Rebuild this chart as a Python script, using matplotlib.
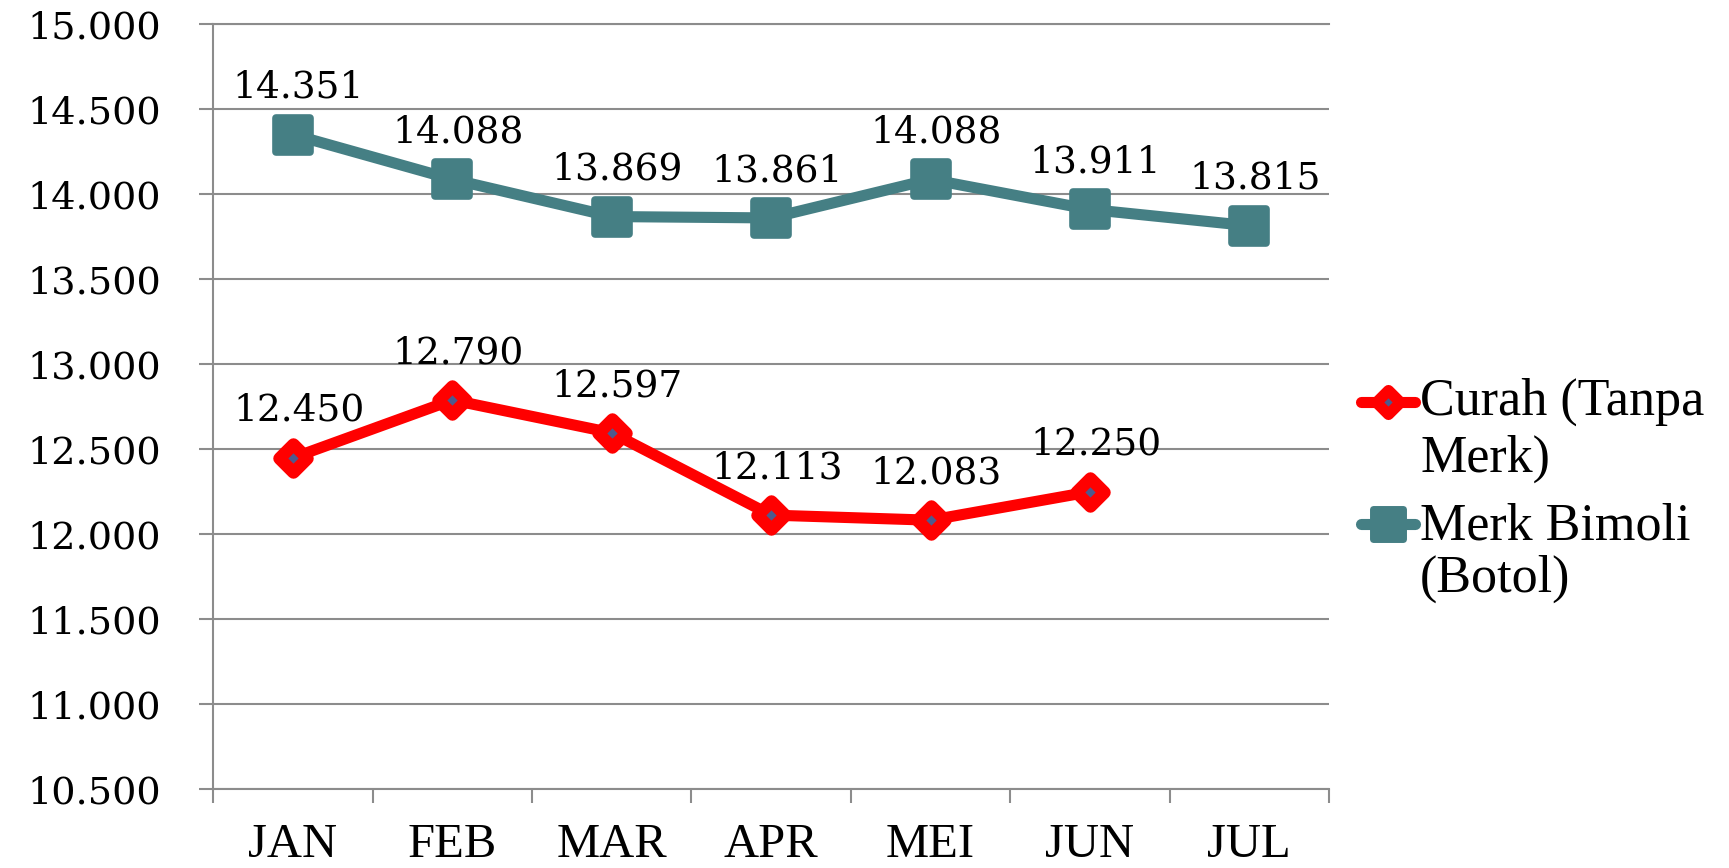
import matplotlib
matplotlib.use("Agg")
import matplotlib.pyplot as plt
from matplotlib.lines import Line2D
from matplotlib.markers import MarkerStyle
import numpy as np

months = ["JAN", "FEB", "MAR", "APR", "MEI", "JUN", "JUL"]
curah = [12450, 12790, 12597, 12113, 12083, 12250]
bimoli = [14351, 14088, 13869, 13861, 14088, 13911, 13815]
curah_labels = ["12.450", "12.790", "12.597", "12.113", "12.083", "12.250"]
bimoli_labels = ["14.351", "14.088", "13.869", "13.861", "14.088", "13.911", "13.815"]
yticks = list(range(10500, 15001, 500))
ytick_labels = ["10.500", "11.000", "11.500", "12.000", "12.500", "13.000",
                "13.500", "14.000", "14.500", "15.000"]
legend_lines = [["Curah (Tanpa", "Merk)"], ["Merk Bimoli", "(Botol)"]]

RED = "#FF0000"
DIAMOND_FACE = "#4E5A8E"
TEAL = "#457F84"
GRID = "#8C8C8C"
NUMFONT = "DejaVu Serif"
TXTFONT = "Liberation Serif"

W, H = 1729, 868
fig = plt.figure(figsize=(W / 100, H / 100), dpi=100)
ax = fig.add_axes([213.3 / W, 1 - 789.3 / H, (1329 - 213.3) / W, (789.3 - 24.3) / H])

x = np.arange(len(months))
xc = np.arange(len(curah))

diamond = MarkerStyle("D", joinstyle="round")
square = MarkerStyle("s", joinstyle="round")

ax.plot(x, bimoli, color=TEAL, lw=8, marker=square, ms=24, mfc=TEAL, mec=TEAL,
        mew=5.5, solid_joinstyle="round", solid_capstyle="round", zorder=3)
ax.plot(xc, curah, color=RED, lw=8, marker=diamond, ms=14, mfc=DIAMOND_FACE, mec=RED,
        mew=9, solid_joinstyle="round", solid_capstyle="round", zorder=3)

for xi, v, s in zip(x, bimoli, bimoli_labels):
    ax.annotate(s, (xi, v), xytext=(4, 26.5), textcoords="offset points",
                ha="center", va="baseline", fontsize=27, family=NUMFONT, zorder=4)
for xi, v, s in zip(xc, curah, curah_labels):
    ax.annotate(s, (xi, v), xytext=(4, 26.5), textcoords="offset points",
                ha="center", va="baseline", fontsize=27, family=NUMFONT, zorder=4)

ax.set_xlim(-0.5, len(months) - 0.5)
ax.set_ylim(yticks[0], yticks[-1])
ax.set_yticks(yticks)
ax.set_yticklabels(ytick_labels, family=NUMFONT, fontsize=27.5)
ax.set_xticks(x)
ax.set_xticklabels(months, family=TXTFONT, fontsize=35)
ax.set_xticks(np.arange(-0.5, len(months)), minor=True)
ax.tick_params(axis="x", which="major", length=0, pad=24)
ax.tick_params(axis="x", which="minor", length=10, width=1.5, color=GRID)
ax.tick_params(axis="y", length=10, width=1.5, color=GRID, pad=27.5)

ax.grid(axis="y", color=GRID, lw=1.5)
ax.set_axisbelow(True)
for side in ["left", "bottom", "top"]:
    ax.spines[side].set_color(GRID)
    ax.spines[side].set_linewidth(1.5)
ax.spines["right"].set_visible(False)

# legend (manual, handle aligned with first text line)
def fx(px):
    return px / W

def fy(py):
    return 1 - py / H

handles = [
    dict(color=RED, marker=diamond, ms=12, mfc=DIAMOND_FACE, mec=RED, mew=8),
    dict(color=TEAL, marker=square, ms=21, mfc=TEAL, mec=TEAL, mew=5),
]
handle_y = [402, 524]
baselines = [[415, 472], [540, 592]]
for h, hy, bl, lines in zip(handles, handle_y, baselines, legend_lines):
    ln = Line2D([fx(1361), fx(1388), fx(1415)], [fy(hy)] * 3, transform=fig.transFigure,
                lw=8, solid_capstyle="round", markevery=[1], **h)
    fig.add_artist(ln)
    for b, t in zip(bl, lines):
        fig.text(fx(1420), fy(b), t, family=TXTFONT, fontsize=37.5, va="baseline", ha="left")

fig.savefig("out.png", dpi=100)
